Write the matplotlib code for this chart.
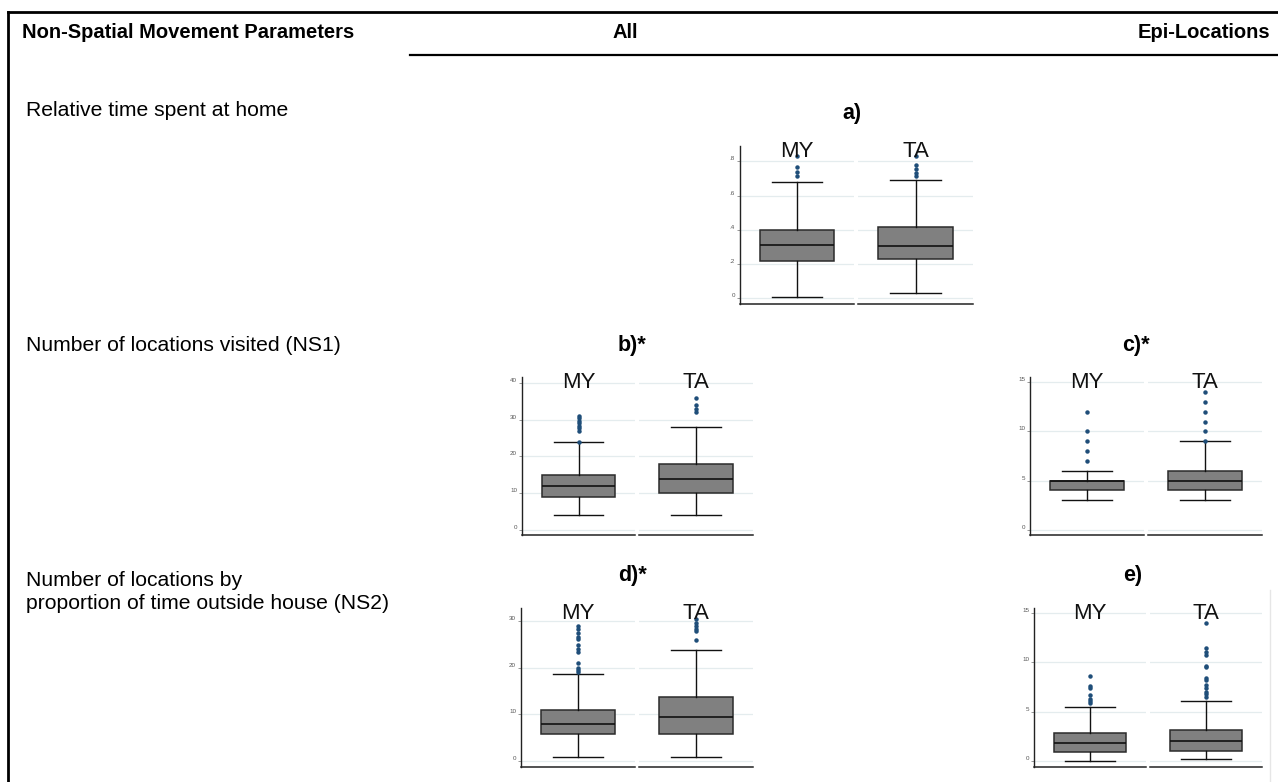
import matplotlib
matplotlib.use("Agg")
import matplotlib.pyplot as plt
from matplotlib.lines import Line2D

W, H = 1278, 782

groups = ["MY", "TA"]

# five-number summaries per group: [whisker low, q1, median, q3, whisker high]
home_all = [[0.008, 0.214, 0.313, 0.401, 0.677], [0.029, 0.228, 0.304, 0.413, 0.689]]
home_all_out = [[0.712, 0.738, 0.765, 0.829], [0.712, 0.730, 0.753, 0.781, 0.829]]

ns1_all = [[4, 9, 12, 15, 24], [4, 10, 14, 18, 28]]
ns1_all_out = [[24, 27, 27.6, 28.3, 29, 29.7, 30.4, 31.1], [32, 33, 34, 36]]

ns1_epi = [[3, 4, 5, 5, 6], [3, 4, 5, 6, 9]]
ns1_epi_out = [[7, 8, 9, 10, 12], [9, 10, 11, 12, 13, 14]]

ns2_all = [[0.86, 5.8, 7.9, 11.0, 18.8], [0.86, 5.8, 9.45, 13.8, 23.8]]
ns2_all_out = [[19.2, 19.6, 20.0, 21.1, 23.5, 24.0, 24.9, 26.2, 26.6, 27.6, 28.3, 29.0],
               [26.0, 27.9, 28.4, 29.1, 29.6, 30.6]]

ns2_epi = [[0.0, 0.92, 1.8, 2.82, 5.48], [0.17, 1.05, 2.0, 3.16, 6.09]]
ns2_epi_out = [[5.85, 6.05, 6.26, 6.67, 7.38, 7.59, 8.6],
               [6.53, 6.77, 7.04, 7.35, 7.69, 8.23, 8.44, 9.5, 9.66, 10.78, 11.0, 11.4, 14.0]]

row_labels = ["Relative time spent at home",
              "Number of locations visited (NS1)",
              "Number of locations by\nproportion of time outside house (NS2)"]
col_labels = ["Non-Spatial Movement Parameters", "All", "Epi-Locations"]
panel_titles = ["a)", "b)*", "c)*", "d)*", "e)"]

home_ticks = [0, 0.2, 0.4, 0.6, 0.8]
home_ticklabels = ["0", ".2", ".4", ".6", ".8"]

plt.rcParams["font.family"] = ["Liberation Sans", "DejaVu Sans"]

fig = plt.figure(figsize=(W / 100, H / 100), dpi=100)


def px(x, y):
    return x / W, 1 - y / H


def rect(x0, y0, x1, y1):
    return [x0 / W, 1 - y1 / H, (x1 - x0) / W, (y1 - y0) / H]


def facet(box, summary, fliers, name, ylim, ticks, ticklabels, first):
    ax = fig.add_axes(rect(*box))
    lo, q1, med, q3, hi = summary
    stats = [dict(whislo=lo, q1=q1, med=med, q3=q3, whishi=hi, fliers=fliers)]
    ax.bxp(stats, positions=[0], widths=0.65, capwidths=0.44, patch_artist=True,
           boxprops=dict(facecolor="#808080", edgecolor="#2b2b2b", linewidth=1.1),
           medianprops=dict(color="#111111", linewidth=1.2),
           whiskerprops=dict(color="#111111", linewidth=1.0),
           capprops=dict(color="#111111", linewidth=1.0),
           flierprops=dict(marker="o", markersize=2.2, markerfacecolor="#1f4e79",
                           markeredgecolor="#1f4e79"))
    ax.set_xlim(-0.5, 0.5)
    ax.set_ylim(*ylim)
    ax.set_yticks(ticks)
    ax.set_yticklabels(ticklabels)
    ax.set_xticks([])
    ax.grid(axis="y", color="#e4ecee", linewidth=0.9)
    ax.set_axisbelow(True)
    for s in ("top", "right"):
        ax.spines[s].set_visible(False)
    ax.spines["bottom"].set_color("#222222")
    ax.spines["bottom"].set_linewidth(1.1)
    if first:
        ax.spines["left"].set_color("#222222")
        ax.spines["left"].set_linewidth(1.0)
        ax.tick_params(axis="y", labelsize=4.5, labelcolor="#555555", color="#888888",
                       length=2, width=0.6, pad=1.5)
        for t in ax.yaxis.get_major_ticks():
            t.label1.set_verticalalignment("bottom")
    else:
        ax.spines["left"].set_visible(False)
        ax.tick_params(axis="y", left=False, labelleft=False)
    ax.text(0.5, 0.93, name, transform=ax.transAxes, ha="center", va="baseline",
            fontsize=16, color="#111111")
    return ax


def panel(boxes, summaries, outliers, ylim, ticks, ticklabels=None):
    if ticklabels is None:
        ticklabels = [str(t) for t in ticks]
    for i, (box, name) in enumerate(zip(boxes, groups)):
        facet(box, summaries[i], outliers[i], name, ylim, ticks, ticklabels, i == 0)


panel([(740, 146, 854, 304), (858, 146, 973, 304)], home_all, home_all_out,
      (-0.035, 0.89), home_ticks, home_ticklabels)
panel([(522, 377, 635, 535), (639, 377, 753, 535)], ns1_all, ns1_all_out,
      (-1.36, 41.6), [0, 10, 20, 30, 40])
panel([(1030, 377, 1144, 535), (1148, 377, 1262, 535)], ns1_epi, ns1_epi_out,
      (-0.54, 15.54), [0, 5, 10, 15])
panel([(521, 608, 635, 767), (639, 608, 753, 767)], ns2_all, ns2_all_out,
      (-1.29, 32.9), [0, 10, 20, 30])
panel([(1034, 608, 1146, 767), (1150, 608, 1262, 767)], ns2_epi, ns2_epi_out,
      (-0.6, 15.5), [0, 5, 10, 15])

# table frame
fig.add_artist(Line2D([px(8, 0)[0], 1], [px(0, 12)[1]] * 2, color="black", linewidth=2))
fig.add_artist(Line2D([px(8, 0)[0]] * 2, [px(0, 12)[1], 0], color="black", linewidth=2))
fig.add_artist(Line2D([px(410, 0)[0], 1], [px(0, 55)[1]] * 2, color="black", linewidth=1.6))
fig.add_artist(Line2D([px(1270, 0)[0]] * 2, [px(0, 590)[1], 0], color="#e6e6e6", linewidth=1))

# column headers
hx = [(22, "left"), (625, "center"), (1270, "right")]
for (x, ha), lab in zip(hx, col_labels):
    fig.text(*px(x, 33), lab, ha=ha, va="center", fontsize=14.5, fontweight="bold",
             color="black")

# row labels
for y, lab in zip([111, 346, 592], row_labels):
    fig.text(*px(26, y), lab, ha="left", va="center", fontsize=15.2, color="black",
             linespacing=1.25)

# panel letters
for (x, y), lab in zip([(842, 113), (618, 345), (1122, 345), (618, 576), (1123, 576)],
                       panel_titles):
    fig.text(*px(x, y), lab, ha="left", va="center", fontsize=15.5, fontweight="bold",
             color="black")

fig.savefig("out.png", dpi=100)
